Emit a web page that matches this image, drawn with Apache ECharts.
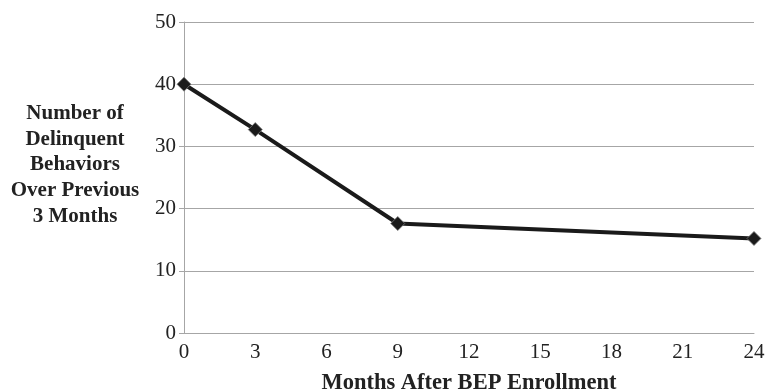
<!DOCTYPE html>
<html>
<head>
<meta charset="utf-8">
<script src="https://cdn.jsdelivr.net/npm/echarts@6/dist/echarts.min.js"></script>
<style>
  html, body { margin: 0; padding: 0; background: #fff; }
  #chart { width: 765px; height: 390px; }
</style>
</head>
<body>
<div id="chart"></div>
<script>
// months after enrollment and the mean count at each visit
const months = [0, 3, 9, 24];
const behaviors = [40, 32.7, 17.6, 15.2];

const yAxisTitle = 'Number of\nDelinquent\nBehaviors\nOver Previous\n3 Months';
const xAxisTitle = 'Months After BEP Enrollment';

const serif = '"Liberation Serif", "DejaVu Serif", serif';

const chart = echarts.init(document.getElementById('chart'), null, { renderer: 'canvas' });

chart.setOption({
  animation: false,
  backgroundColor: '#fff',
  grid: { left: 184, right: 11, top: 22, bottom: 57, outerBoundsMode: 'none', containLabel: false },
  xAxis: {
    type: 'value',
    min: 0,
    max: 24,
    interval: 3,
    name: xAxisTitle,
    nameLocation: 'middle',
    nameGap: 39,
    nameTextStyle: { fontFamily: serif, fontWeight: 'bold', fontSize: 22.5, color: '#222' },
    axisLine: { show: true, lineStyle: { color: '#a6a6a6', width: 1 } },
    axisTick: { show: false },
    splitLine: { show: false },
    axisLabel: { fontFamily: serif, fontSize: 21, color: '#222', margin: 9 }
  },
  yAxis: {
    type: 'value',
    min: 0,
    max: 50,
    interval: 10,
    axisLine: { show: true, lineStyle: { color: '#a6a6a6', width: 1 } },
    axisTick: { show: true, length: 5, lineStyle: { color: '#a6a6a6' } },
    splitLine: { show: true, lineStyle: { color: '#a6a6a6', width: 1 } },
    axisLabel: { fontFamily: serif, fontSize: 21, color: '#222', margin: 8 }
  },
  graphic: [{
    type: 'text',
    x: 75,
    y: 165,
    style: {
      text: yAxisTitle,
      fontFamily: serif,
      fontWeight: 'bold',
      fontSize: 21,
      lineHeight: 25.7,
      fill: '#222',
      align: 'center',
      verticalAlign: 'middle'
    }
  }],
  series: [{
    type: 'line',
    data: months.map((m, i) => [m, behaviors[i]]),
    symbol: 'diamond',
    symbolSize: 14,
    lineStyle: { color: '#1a1a1a', width: 4 },
    itemStyle: { color: '#1a1a1a', borderColor: '#777', borderWidth: 0.8 }
  }]
});
</script>
</body>
</html>
